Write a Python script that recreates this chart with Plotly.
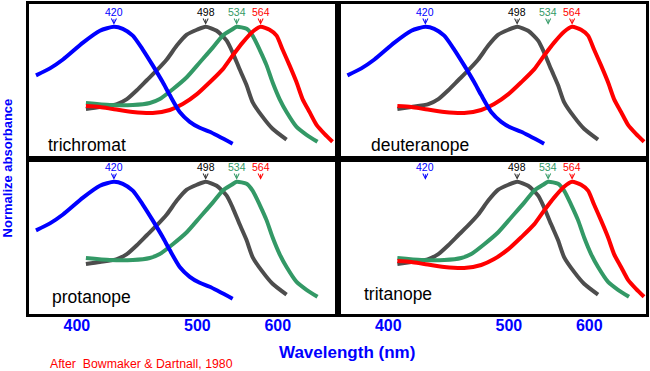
import plotly.graph_objects as go
from plotly.subplots import make_subplots

# ---- data (wavelength in nm, normalized absorbance) ----
blue_wl = [374.6, 382.9, 391.0, 404.1, 415.9, 426.2, 433.0, 440.9, 449.1, 457.6, 466.5,
           472.9, 482.3, 492.2, 502.4, 513.1, 539.4]
blue_ab = [0.595, 0.653, 0.727, 0.868, 0.967, 1.0, 0.983, 0.926, 0.81, 0.678, 0.537,
           0.43, 0.289, 0.207, 0.157, 0.124, 0.025]

gray_wl = [406.1, 415.9, 428.5, 436.2, 444.2, 452.5, 461.1, 470.1, 479.5, 489.2, 499.5,
           508.7, 520.8, 532.3, 539.4, 548.0, 556.8, 564.6, 578.2, 592.3, 613.4]
gray_ab = [0.314, 0.331, 0.355, 0.397, 0.471, 0.554, 0.636, 0.727, 0.843, 0.934, 0.975,
           1.0, 0.967, 0.884, 0.785, 0.645, 0.512, 0.372, 0.248, 0.149, 0.058]

green_wl = [406.1, 423.2, 440.9, 455.1, 463.8, 475.7, 489.2, 502.4, 516.4, 527.6, 538.2,
            544.3, 556.8, 564.6, 574.0, 583.8, 592.3, 602.7, 613.4, 629.4, 646.2, 665.8]
green_ab = [0.364, 0.347, 0.347, 0.364, 0.397, 0.479, 0.579, 0.702, 0.826, 0.926, 0.975,
            1.0, 0.983, 0.926, 0.81, 0.678, 0.537, 0.397, 0.289, 0.165, 0.099, 0.041]

red_wl = [406.1, 415.9, 425.4, 440.9, 457.6, 472.9, 485.2, 499.5, 513.1, 527.6, 539.4,
          551.7, 564.6, 575.4, 588.0, 598.2, 607.2, 618.1, 629.4, 639.4, 651.5, 664.0,
          678.9, 694.6]
red_ab = [0.339, 0.331, 0.314, 0.289, 0.281, 0.306, 0.355, 0.438, 0.537, 0.645, 0.760,
          0.868, 0.959, 1.0, 0.975, 0.926, 0.81, 0.678, 0.537, 0.397, 0.289, 0.182,
          0.107, 0.041]

peak_text = ["420", "498", "534", "564"]
peak_wl = [426.2, 508.7, 544.3, 575.4]
tick_nm = [400, 500, 600]
panel_names = ["trichromat", "deuteranope", "protanope", "tritanope"]
# which pigments each panel shows: blue, gray, green, red
panel_present = [
    [True, True, True, True],
    [True, True, False, True],
    [True, True, True, False],
    [False, True, True, True],
]

colors = ["#0000ff", "#4d4d4d", "#339966", "#ff0000"]
label_colors = ["#0000ff", "#000000", "#339966", "#ff0000"]
curves = [(blue_wl, blue_ab), (gray_wl, gray_ab), (green_wl, green_ab), (red_wl, red_ab)]
draw_order = [1, 2, 3, 0]


def wn(nm):
    return 1e7 / nm


FONT = "Liberation Sans, Arial, sans-serif"
fig = make_subplots(rows=2, cols=2, horizontal_spacing=0, vertical_spacing=0)

cells = [(1, 1), (1, 2), (2, 1), (2, 2)]
for p, (r, c) in enumerate(cells):
    for i in draw_order:
        if not panel_present[p][i]:
            continue
        wl, ab = curves[i]
        fig.add_trace(go.Scatter(
            x=[wn(v) for v in wl], y=ab, mode="lines",
            line=dict(color=colors[i], width=4, shape="spline", smoothing=0.6),
            showlegend=False, hoverinfo="skip"), row=r, col=c)
    idx = "" if p == 0 else str(p + 1)
    for i in range(4):
        fig.add_annotation(
            x=wn(peak_wl[i]), y=1.017, xref="x" + idx, yref="y" + idx,
            text=peak_text[i], showarrow=True, ax=0, ay=-13,
            arrowhead=5, arrowsize=1, arrowwidth=1,
            arrowcolor=colors[i] if i != 1 else "#333333",
            font=dict(family=FONT, size=10.5, color=label_colors[i]))

left_range = [26985, 14190]
right_range = [27106, 14315]
axis_common = dict(showline=True, mirror=True, linecolor="black", linewidth=3,
                   showgrid=False, zeroline=False, ticks="")
for p, (r, c) in enumerate(cells):
    fig.update_xaxes(
        range=left_range if c == 1 else right_range,
        tickvals=[wn(t) for t in tick_nm], ticktext=[str(t) for t in tick_nm],
        showticklabels=(r == 2), ticklabelstandoff=-5,
        tickfont=dict(family=FONT, size=16, color="#0000ff", weight="bold"),
        row=r, col=c, **axis_common)
    fig.update_yaxes(range=[-0.103, 1.19], showticklabels=False, row=r, col=c, **axis_common)

label_pos = [(0.0275, 0.546), (0.5518, 0.546), (0.034, 0.0543), (0.540, 0.0639)]
for name, (px, py) in zip(panel_names, label_pos):
    fig.add_annotation(x=px, y=py, xref="paper", yref="paper", text=name,
                       showarrow=False, xanchor="left", yanchor="middle",
                       font=dict(family=FONT, size=17.5, color="black"))

fig.add_annotation(x=0.5146, y=-0.125, xref="paper", yref="paper",
                   text="Wavelength (nm)", showarrow=False, xanchor="center", yanchor="middle",
                   font=dict(family=FONT, size=17, color="#0000ff", weight="bold"))
fig.add_annotation(x=-0.0345, y=0.472, xref="paper", yref="paper",
                   text="Normalize absorbance", showarrow=False, textangle=-90,
                   xanchor="center", yanchor="middle",
                   font=dict(family=FONT, size=13, color="#0000ff", weight="bold"))
fig.add_annotation(x=0.0307, y=-0.16, xref="paper", yref="paper",
                   text="After  Bowmaker &amp; Dartnall, 1980", showarrow=False,
                   xanchor="left", yanchor="middle",
                   font=dict(family=FONT, size=12.3, color="#ff0000"))

fig.update_layout(width=650, height=371, margin=dict(l=29, r=3, t=1, b=57),
                  paper_bgcolor="white", plot_bgcolor="white")
fig.write_html("out.html", config={"displayModeBar": False},
               post_script="document.body.style.margin='0';document.body.style.overflow='hidden';")
